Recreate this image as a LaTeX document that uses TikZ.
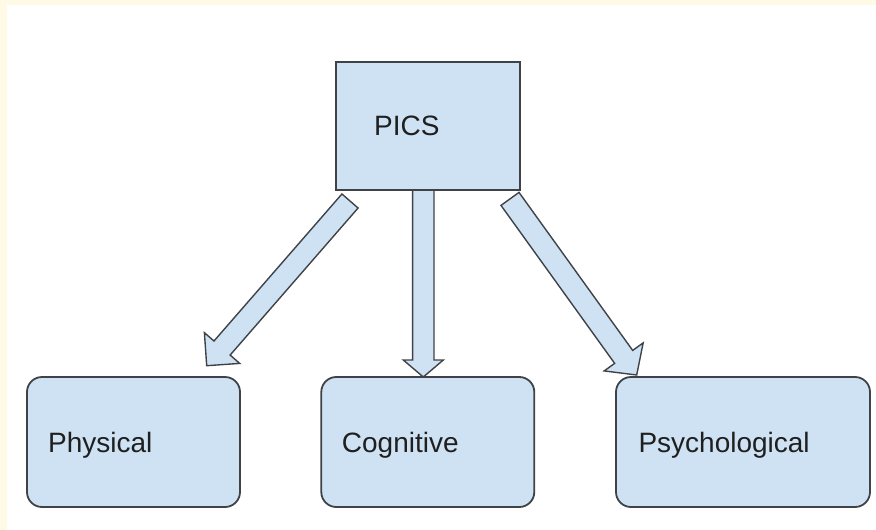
\documentclass[tikz,border=0pt]{standalone}
\usepackage{fontspec}
\setmainfont{Liberation Sans}
\usetikzlibrary{calc}
\definecolor{cream}{HTML}{FFFAE6}
\definecolor{boxfill}{HTML}{CFE2F3}
\definecolor{edge}{HTML}{3F4347}
\definecolor{ink}{HTML}{1F1F1F}
\pgfdeclarelayer{back}
\pgfdeclarelayer{arrowlayer}
\pgfsetlayers{back,arrowlayer,main}
\newcommand{\blockarrow}[5]{%
  \draw[blockarrowstyle]
    ($(#1)!#3!90:(#2)$) --
    ($(#2)!#5!(#1)!#3!-90:(#1)$) --
    ($(#2)!#5!(#1)!#4!-90:(#1)$) --
    (#2) --
    ($(#2)!#5!(#1)!#4!90:(#1)$) --
    ($(#2)!#5!(#1)!#3!90:(#1)$) --
    ($(#1)!#3!-90:(#2)$) -- cycle;}
\tikzset{
  blockarrowstyle/.style={fill=boxfill, draw=edge, line width=1.4pt, line join=miter},
  topbox/.style={draw=edge, fill=boxfill, line width=1.5pt, minimum width=184pt, minimum height=128pt, inner sep=0pt},
  leafbox/.style={draw=edge, fill=boxfill, line width=1.8pt, rounded corners=15pt, minimum width=213pt, minimum height=130pt, inner sep=0pt},
  lbl/.style={anchor=base west, inner sep=0pt, text=ink, font=\fontsize{28}{34}\selectfont},
}
\begin{document}
\begin{tikzpicture}[x=1pt, y=-1pt]
\begin{pgfonlayer}{back}
  \fill[cream] (0,0) rectangle (876,530);
  \fill[white] (7,5) rectangle (876,530);
\end{pgfonlayer}
\useasboundingbox (0,0) rectangle (876,530);

% boxes
\node[topbox] (pics) at (428,126) {};
\node[leafbox] (phys) at (133.5,442) {};
\node[leafbox] (cog) at (427.8,442) {};
\node[leafbox, minimum width=254pt] (psy) at (743,442) {};

% labels
\node[lbl] (picsT) at (374,135) {PICS};
\node[lbl] (physT) at (48,452.5) {Physical};
\node[lbl] (cogT) at (341.7,452) {Cognitive};
\node[lbl] (psyT) at (638.3,452) {Psychological};

% arrow ends
\coordinate (la) at (350,201);
\coordinate (lb) at (206.7,365.7);
\coordinate (ma) at (423.3,190);
\coordinate (mb) at (423.3,377);
\coordinate (ra) at (510,198.9);
\coordinate (rb) at (636.7,375);

\begin{pgfonlayer}{arrowlayer}
  \blockarrow{la}{lb}{10.7pt}{23.4pt}{23.4pt}
  \blockarrow{ma}{mb}{10.7pt}{20pt}{17pt}
  \blockarrow{ra}{rb}{11.1pt}{24pt}{22.3pt}
\end{pgfonlayer}
\end{tikzpicture}
\end{document}
